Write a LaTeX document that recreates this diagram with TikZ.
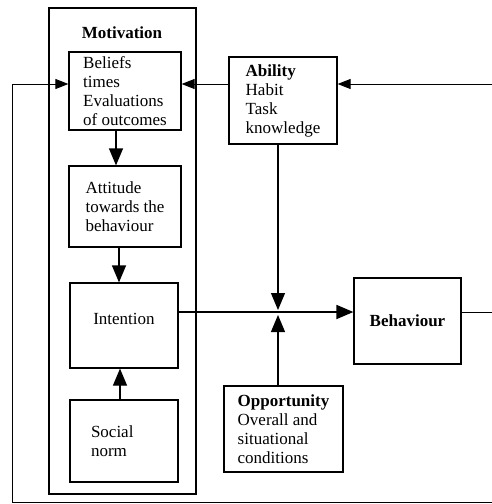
\documentclass[tikz,border=0pt]{standalone}
\usepackage{fontspec}
\setmainfont{Liberation Serif}
\usetikzlibrary{arrows.meta,calc}
\tikzset{
  box/.style={draw, line width=1.2pt, align=left, inner sep=0pt},
  arr/.style={-{Triangle[length=17pt,width=14pt]}, line width=1.2pt},
  thinarr/.style={-{Triangle[length=13pt,width=10pt]}, line width=0.9pt},
  thinline/.style={line width=0.9pt},
}

\begin{document}
\begin{tikzpicture}[x=1pt, y=-1pt, every node/.style={font=\fontsize{17}{19}\selectfont}]
  \useasboundingbox (0,0) rectangle (492,504);
  % motivation block
  \node[box, line width=1.8pt, minimum width=147pt, minimum height=486pt] (motiv) at (122.5,251) {};
  \node[font=\fontsize{17}{19}\selectfont\bfseries] (mtitle) at (122,33) {Motivation};
  \node[box, minimum width=112pt, minimum height=78pt] (belief) at (125,91)
    {Beliefs\\times\\Evaluations\\of outcomes};
  \node[box, minimum width=112pt, minimum height=81pt] (att) at (125,206.5)
    {Attitude\\towards the\\behaviour};
  \node[box, minimum width=108pt, minimum height=85pt, text depth=14pt] (inten) at (124,325.5)
    {Intention};
  \node[box, minimum width=108pt, minimum height=82pt, text width=66pt] (social) at (124,441)
    {Social\\norm\\[2pt]};
  % other factors
  \node[box, minimum width=108pt, minimum height=87pt] (abil) at (283,100.5)
    {\textbf{Ability}\\Habit\\Task\\knowledge};
  \node[box, minimum width=107pt, minimum height=86pt] (behav) at (407.5,321)
    {\textbf{Behaviour}};
  \node[box, minimum width=119pt, minimum height=86pt] (opp) at (283.5,429)
    {\textbf{Opportunity}\\Overall and\\situational\\conditions};
  \coordinate (rtop) at (492,84);
  \coordinate (rmid) at (492,312);
  \coordinate (rbot) at (492,502);
  \coordinate (lbot) at (12,502);
  \coordinate (jn) at (278,312);
  % feedback
  \draw[thinarr] (rtop) -- (abil.east |- rtop);
  \draw[thinarr] (abil.west |- rtop) -- (belief.east |- rtop);
  \draw[thinarr] (rbot) -- (lbot) -- (lbot |- rtop) -- (belief.west |- rtop);
  \draw[thinline] (behav.east |- jn) -- (rmid);
  % inside motivation
  \draw[arr] ([xshift=-9pt]belief.south) -- ([xshift=-9pt]belief.south |- att.north);
  \draw[arr] ([xshift=-6pt]att.south) -- ([xshift=-6pt]att.south |- inten.north);
  \draw[arr] ([xshift=-4pt]social.north) -- ([xshift=-4pt]social.north |- inten.south);
  % to behaviour
  \draw[line width=1.8pt] (inten.east |- jn) -- (jn);
  \draw[arr, line width=1.8pt] (jn) -- (behav.west |- jn);
  \draw[arr, shorten >=2pt] (abil.south -| jn) -- (jn);
  \draw[arr, shorten >=3pt] (opp.north -| jn) -- (jn);
\end{tikzpicture}
\end{document}
